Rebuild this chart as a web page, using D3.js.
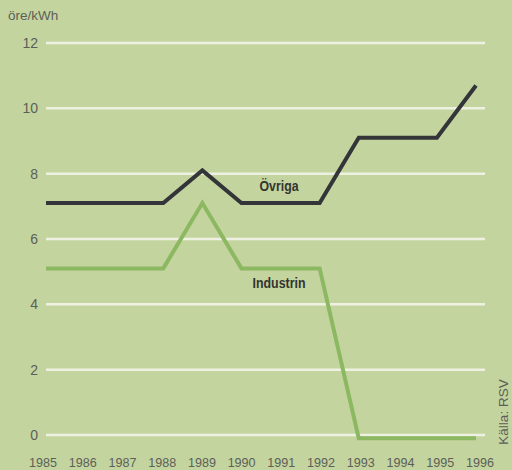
<!DOCTYPE html>
<html><head><meta charset="utf-8">
<script src="https://cdn.jsdelivr.net/npm/d3@7"></script>
<style>html,body{margin:0;padding:0;background:#c4d49f;}svg{display:block;}</style>
</head><body>
<svg id="c" width="512" height="470"></svg>
<script>
const years = [1985,1986,1987,1988,1989,1990,1991,1992,1993,1994,1995,1996];
const ovriga = [7.1,7.1,7.1,7.1,8.1,7.1,7.1,7.1,9.1,9.1,9.1,10.7];
const industrin = [5.1,5.1,5.1,5.1,7.1,5.1,5.1,5.1,-0.1,-0.1,-0.1,-0.1];
const yTicks = [0,2,4,6,8,10,12];
const unitLabel = "öre/kWh";
const sourceLabel = "Källa: RSV";

const svg = d3.select("#c");
svg.append("rect").attr("width",512).attr("height",470).attr("fill","#c4d49f");
const x = d3.scaleLinear().domain([1985,1996]).range([46,476]);
const xl = d3.scaleLinear().domain([1985,1996]).range([43,480]);
const y = d3.scaleLinear().domain([0,12]).range([435,43]);
const font = "Liberation Sans, Arial, sans-serif";

// grid
svg.append("g").selectAll("line").data(yTicks).join("line")
  .attr("x1",46).attr("x2",485)
  .attr("y1",d=>y(d)).attr("y2",d=>y(d))
  .attr("stroke","#eef1e2").attr("stroke-width",2.5);

// y labels
svg.append("g").selectAll("text").data(yTicks).join("text")
  .attr("x",38).attr("y",d=>y(d)).attr("dy","0.35em")
  .attr("text-anchor","end").attr("font-family",font)
  .attr("font-size",14).attr("fill","#5c5f58").text(d=>d);

// x labels
svg.append("g").selectAll("text").data(years).join("text")
  .attr("x",d=>xl(d)).attr("y",462).attr("dy","0.35em")
  .attr("text-anchor","middle").attr("font-family",font)
  .attr("font-size",13.5).attr("fill","#5c5f58")
  .attr("textLength",28).attr("lengthAdjust","spacingAndGlyphs").text(d=>d);

svg.append("text").attr("x",8).attr("y",15).attr("dy","0.35em")
  .attr("font-family",font).attr("font-size",13.5)
  .attr("fill","#5c5f58").text(unitLabel);

svg.append("text").attr("transform","translate(508,412) rotate(-90)")
  .attr("text-anchor","middle")
  .attr("font-family",font).attr("font-size",13.5)
  .attr("fill","#5c5f58").text(sourceLabel);

const line = d3.line().x((d,i)=>x(years[i])).y(d=>y(d));
svg.append("path").datum(industrin).attr("d",line).attr("fill","none")
  .attr("stroke","#8cb862").attr("stroke-width",4).attr("stroke-linejoin","miter");
svg.append("path").datum(ovriga).attr("d",line).attr("fill","none")
  .attr("stroke","#333538").attr("stroke-width",4).attr("stroke-linejoin","miter");

svg.append("text").attr("x",279).attr("y",186).attr("dy","0.35em").attr("text-anchor","middle")
  .attr("font-family",font).attr("font-weight","bold")
  .attr("font-size",14.5).attr("fill","#33352f")
  .attr("textLength",39).attr("lengthAdjust","spacingAndGlyphs").text("Övriga");
svg.append("text").attr("x",279).attr("y",283).attr("dy","0.35em").attr("text-anchor","middle")
  .attr("font-family",font).attr("font-weight","bold")
  .attr("font-size",14.5).attr("fill","#33352f")
  .attr("textLength",53).attr("lengthAdjust","spacingAndGlyphs").text("Industrin");
</script>
</body></html>
